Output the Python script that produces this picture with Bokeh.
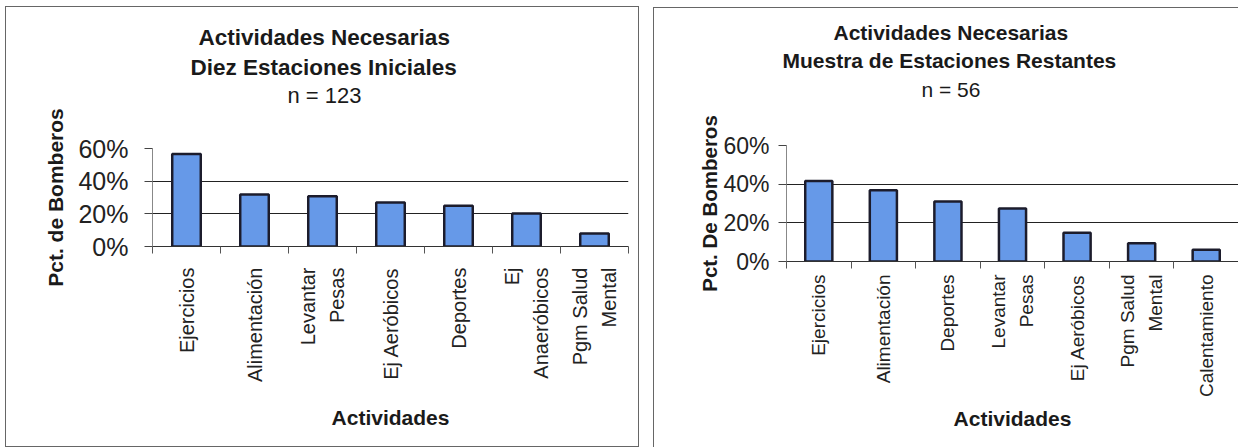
import math
from bokeh.plotting import figure
from bokeh.models import Range1d, FixedTicker, NumeralTickFormatter, Title
from bokeh.layouts import row, column
from bokeh.embed import file_html
from bokeh.resources import INLINE

# ---------------- data ----------------
left_title = ["Actividades Necesarias", "Diez Estaciones Iniciales"]
left_n = "n = 123"
left_ylabel = "Pct. de Bomberos"
left_cats = ["Ejercicios", "Alimentación", "Levantar\nPesas", "Ej Aeróbicos",
             "Deportes", "Ej\nAnaeróbicos", "Pgm Salud\nMental"]
left_vals = [0.566, 0.318, 0.308, 0.270, 0.250, 0.202, 0.080]

right_title = ["Actividades Necesarias", "Muestra de Estaciones Restantes"]
right_n = "n = 56"
right_ylabel = "Pct. De Bomberos"
right_cats = ["Ejercicios", "Alimentación", "Deportes", "Levantar\nPesas",
              "Ej Aeróbicos", "Pgm Salud\nMental", "Calentamiento"]
right_vals = [0.416, 0.369, 0.310, 0.274, 0.149, 0.095, 0.061]

x_title = "Actividades"
y_ticks = [0.0, 0.2, 0.4, 0.6]

FONT = "Liberation Sans"
BAR_FILL = "#6699E8"
BAR_LINE = "#1c1c2c"
TXT = "#1a1a1a"


def make_chart(cats, vals, title, ntext, ylabel, g):
    p = figure(width=g["W"], height=g["H"], output_backend="svg", toolbar_location=None,
               title=None,
               x_range=Range1d(0, len(cats)), y_range=Range1d(0, 0.6),
               min_border_left=g["bl"], min_border_right=g["br"],
               min_border_top=g["bt"], min_border_bottom=g["bb"],
               background_fill_color="white", border_fill_color="white",
               outline_line_color=None)
    xs = [i + 0.5 for i in range(len(cats))]
    p.vbar(x=xs, top=vals, width=0.42, fill_color=BAR_FILL,
           line_color=BAR_LINE, line_width=2.5)

    # x axis (categories between boundary ticks)
    xa = p.xaxis[0]
    xa.ticker = FixedTicker(ticks=xs, minor_ticks=list(range(len(cats) + 1)))
    xa.major_label_overrides = {x: c for x, c in zip(xs, cats)}
    xa.major_label_orientation = math.pi / 2
    xa.major_label_text_font = FONT
    xa.major_label_text_font_size = g["cat_fs"]
    xa.major_label_text_color = "#222222"
    xa.major_label_text_line_height = 1.3
    xa.major_label_standoff = g["cat_standoff"]
    xa.major_tick_line_color = None
    xa.major_tick_out = 0
    xa.major_tick_in = 0
    xa.minor_tick_out = 7
    xa.minor_tick_in = 0
    xa.minor_tick_line_color = "#555555"
    xa.axis_line_color = "#333333"
    xa.axis_label = x_title
    xa.axis_label_text_font = FONT
    xa.axis_label_text_font_style = "bold"
    xa.axis_label_text_font_size = g["xl_fs"]
    xa.axis_label_text_color = TXT
    xa.axis_label_standoff = g["xl_standoff"]

    # y axis
    ya = p.yaxis[0]
    ya.ticker = FixedTicker(ticks=y_ticks)
    ya.formatter = NumeralTickFormatter(format="0%")
    ya.major_label_text_font = FONT
    ya.major_label_text_font_size = g["tick_fs"]
    ya.major_label_text_color = "#222222"
    ya.major_label_standoff = g["tick_standoff"]
    ya.major_tick_out = 8
    ya.major_tick_in = 0
    ya.minor_tick_line_color = None
    ya.major_tick_line_color = "#444444"
    ya.axis_line_color = "#888888"
    ya.axis_label = ylabel
    ya.axis_label_text_font = FONT
    ya.axis_label_text_font_style = "bold"
    ya.axis_label_text_font_size = g["yl_fs"]
    ya.axis_label_text_color = TXT
    ya.axis_label_standoff = g["yl_standoff"]

    p.xgrid.visible = False
    p.ygrid.ticker = FixedTicker(ticks=y_ticks)
    p.ygrid.grid_line_color = "#222222"
    p.ygrid.grid_line_width = 1

    # titles, stacked outward from the frame: spacer, n, line 2, line 1
    p.add_layout(Title(text=" ", text_font_size="10px", standoff=g["s_sp"]), "above")
    p.add_layout(Title(text=ntext, align="left", offset=g["off_n"], standoff=g["s_n"],
                       text_font=FONT, text_font_style="normal",
                       text_font_size=g["n_fs"], text_color=TXT), "above")
    p.add_layout(Title(text=title[1], align="left", offset=g["off_2"], standoff=g["s_2"],
                       text_font=FONT, text_font_style="bold",
                       text_font_size=g["title_fs"], text_color=TXT), "above")
    p.add_layout(Title(text=title[0], align="left", offset=g["off_1"], standoff=g["s_1"],
                       text_font=FONT, text_font_style="bold",
                       text_font_size=g["title_fs"], text_color=TXT), "above")
    return p


gl = dict(W=634, H=420, bl=146, br=10, bt=136, bb=186,
          cat_fs="20px", cat_standoff=14, tick_fs="25px", tick_standoff=16,
          title_fs="22.5px", n_fs="22px", yl_fs="21px", xl_fs="21px",
          xl_standoff=21, yl_standoff=8,
          s_sp=27.4, s_n=1.3, s_2=2, s_1=3.8,
          off_1=46, off_2=38, off_n=135)
gr = dict(W=585, H=438, bl=132, br=0, bt=136, bb=186,
          cat_fs="19px", cat_standoff=6, tick_fs="23px", tick_standoff=9,
          title_fs="21px", n_fs="21px", yl_fs="20.5px", xl_fs="21px",
          xl_standoff=7, yl_standoff=-1,
          s_sp=28.8, s_n=4.5, s_2=2.5, s_1=2.5,
          off_1=47, off_2=-4, off_n=135)

p1 = make_chart(left_cats, left_vals, left_title, left_n, left_ylabel, gl)
p2 = make_chart(right_cats, right_vals, right_title, right_n, right_ylabel, gr)
p1.margin = (5, 0, 0, 0)
p2.margin = (1, 0, 0, 0)

c1 = column(p1, width=634, height=441, margin=(6, 0, 0, 5),
            styles={"border": "1px solid #666666"})
c2 = column(p2, width=585, height=440, margin=(7, 0, 0, 14),
            styles={"border-left": "1px solid #666666", "border-top": "1px solid #666666"})

layout = row(c1, c2, spacing=0)
open("out.html", "w").write(file_html(layout, INLINE))
